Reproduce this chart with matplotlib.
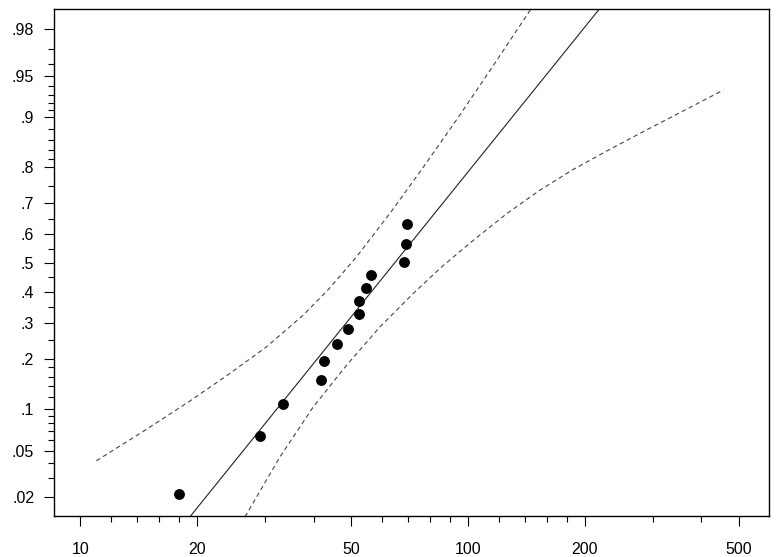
# Lognormal probability plot: failure times with fitted line and confidence bands
import numpy as np
import matplotlib
matplotlib.use('Agg')
import matplotlib.pyplot as plt
from matplotlib.ticker import FixedLocator, FixedFormatter, NullFormatter
from statistics import NormalDist

plt.rcParams['font.family'] = ['Liberation Sans', 'DejaVu Sans']

# observed points (time, cumulative probability)
fail_time = [18.0, 29.1, 33.3, 41.8, 42.5, 46.0, 48.9, 52.4, 52.5, 54.7, 56.1, 68.5, 69.4, 69.7]
fail_prob = [0.0215, 0.0645, 0.1086, 0.153, 0.195, 0.240, 0.282, 0.3285, 0.371, 0.413, 0.459, 0.503, 0.568, 0.633]

# fitted line, read at both ends
fit_time = [18.4, 227.0]
fit_prob = [0.0107, 0.9893]

# upper (left) confidence band
upper_time = [11.0, 14.26, 19.19, 24.33, 30.26, 37.62, 44.08, 51.66, 62.95, 76.7, 93.6, 114.0, 146.1]
upper_prob = [0.0415, 0.0676, 0.1134, 0.1668, 0.2318, 0.3245, 0.4146, 0.5231, 0.6692, 0.7999, 0.8963, 0.9545, 0.98745]

# lower (right) confidence band
lower_time = [26.6, 32.75, 39.92, 48.67, 59.33, 72.3, 85.6, 103.3, 125.9, 153.5, 187.1, 228.1, 278.0, 338.8, 456.0]
lower_prob = [0.01304, 0.0447, 0.1038, 0.1857, 0.2884, 0.3955, 0.4874, 0.5796, 0.6679, 0.7392, 0.7947, 0.8373,
              0.8726, 0.9015, 0.9355]

# axis ticks
x_major = [10, 20, 50, 100, 200, 500]
x_minor = [12, 14, 16, 18, 30, 40, 60, 70, 80, 90, 120, 140, 160, 180, 300, 400]
y_major = [0.02, 0.05, 0.1, 0.2, 0.3, 0.4, 0.5, 0.6, 0.7, 0.8, 0.9, 0.95, 0.98]
y_labels = ['.02', '.05', '.1', '.2', '.3', '.4', '.5', '.6', '.7', '.8', '.9', '.95', '.98']
y_minor = [0.03, 0.04, 0.06, 0.07, 0.08, 0.09, 0.12, 0.14, 0.16, 0.18, 0.25, 0.35, 0.45,
           0.55, 0.65, 0.75, 0.82, 0.84, 0.86, 0.88, 0.91, 0.92, 0.93, 0.94, 0.96, 0.97]

nd = NormalDist()


def _ppf1(p):
    if not np.isfinite(p):
        return np.nan
    p = min(max(p, 1e-12), 1 - 1e-12)
    return nd.inv_cdf(p)


_ppf = np.vectorize(_ppf1, otypes=[float])
_cdf = np.vectorize(nd.cdf, otypes=[float])


def forward(p):
    return _ppf(np.asarray(p, dtype=float))


def inverse(z):
    return _cdf(np.asarray(z, dtype=float))


fig = plt.figure(figsize=(7.78, 5.57), dpi=100)
ax = fig.add_axes([0.0698, 0.0736, 0.918, 0.9097])
ax.set_xscale('log')
ax.set_yscale('function', functions=(forward, inverse))

ax.plot(fit_time, fit_prob, color='#222222', lw=0.8)
ax.plot(upper_time, upper_prob, color='#444444', lw=0.8, linestyle=(0, (4, 3)))
ax.plot(lower_time, lower_prob, color='#444444', lw=0.8, linestyle=(0, (4, 3)))
ax.plot(fail_time, fail_prob, 'o', color='black', markersize=6.8, zorder=5)

ax.set_xlim(8.57, 596)
ax.set_ylim(0.01328, 0.987)

ax.xaxis.set_major_locator(FixedLocator(x_major))
ax.xaxis.set_major_formatter(FixedFormatter([str(v) for v in x_major]))
ax.xaxis.set_minor_locator(FixedLocator(x_minor))
ax.xaxis.set_minor_formatter(NullFormatter())
ax.yaxis.set_major_locator(FixedLocator(y_major))
ax.yaxis.set_major_formatter(FixedFormatter(y_labels))
ax.yaxis.set_minor_locator(FixedLocator(y_minor))
ax.yaxis.set_minor_formatter(NullFormatter())

ax.tick_params(which='major', direction='out', length=7.5, width=0.8, labelsize=11.5)
ax.tick_params(which='minor', direction='out', length=4, width=0.8)
ax.tick_params(axis='x', which='major', pad=11)
ax.tick_params(axis='y', which='major', pad=7)
for s in ax.spines.values():
    s.set_linewidth(1.0)

fig.savefig('out.png', dpi=100)
